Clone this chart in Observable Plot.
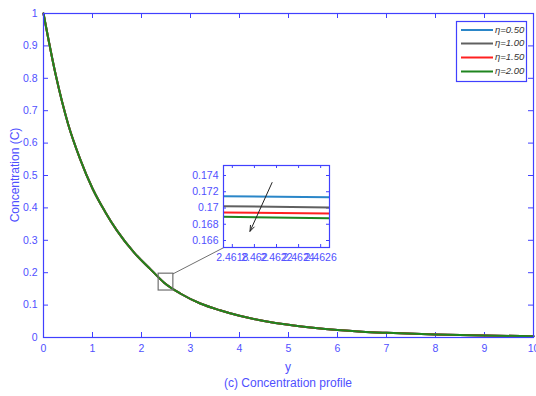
<!DOCTYPE html>
<html>
<head>
<meta charset="utf-8">
<script src="https://cdn.jsdelivr.net/npm/d3@7"></script>
<script src="https://cdn.jsdelivr.net/npm/@observablehq/plot@0.6"></script>
<style>
  html, body { margin: 0; padding: 0; background: white; }
  #wrap { position: relative; width: 536px; height: 396px; overflow: hidden; }
  #wrap svg { position: absolute; }
</style>
</head>
<body>
<div id="wrap"></div>
<script>
// ---------- data ----------
const etaLabels = ["η=0.50", "η=1.00", "η=1.50", "η=2.00"];
const etaColors = ["#2a86c8", "#606060", "#ff2020", "#1f851f"];

// main concentration profile (the four curves coincide at this scale)
const yValues = [0, 0.25, 0.5, 0.75, 1.0, 1.25, 1.5, 1.85, 2.2, 2.462, 2.8, 3.2, 3.6, 4.0, 4.5, 5.0, 5.5, 6.0, 6.5, 7.0, 8.0, 9.0, 10.0];
const cValues = [1, 0.81, 0.66, 0.55, 0.46, 0.39, 0.33, 0.262, 0.208, 0.169, 0.135, 0.105, 0.084, 0.067, 0.051, 0.039, 0.030, 0.023, 0.018, 0.0145, 0.009, 0.006, 0.004];

// zoomed inset values
const insetY = [2.4617, 2.4627];
const insetC = [
  [0.17145, 0.17133],  // η=0.50
  [0.17022, 0.17006],  // η=1.00
  [0.16945, 0.16932],  // η=1.50
  [0.16892, 0.16875]   // η=2.00
];

const xTicks = [0, 1, 2, 3, 4, 5, 6, 7, 8, 9, 10];
const yTicks = [0, 0.1, 0.2, 0.3, 0.4, 0.5, 0.6, 0.7, 0.8, 0.9, 1];
const insetXTicks = [2.4618, 2.462, 2.4622, 2.4624, 2.4626];
const insetYTicks = [0.166, 0.168, 0.17, 0.172, 0.174];
const insetXDomain = [2.46172, 2.46268];
const insetYDomain = [0.16514, 0.17523];

// annotation geometry (data units)
const zoomBox = [{x1: 2.35, x2: 2.65, y1: 0.145, y2: 0.197}];
const connector = [{x: 2.65, y: 0.197}, {x: 3.673, y: 0.277}];
const insetArrow = [{x1: 2.46216, y1: 0.17313, x2: 2.46196, y2: 0.16713}];

// ---------- styles ----------
const axisBlue = "#4040ff";
const textBlue = "#5050ff";
const font = "'Liberation Sans', Arial, sans-serif";

const profile = yValues.map((y, i) => ({y, c: cValues[i]}));
const series = etaLabels.flatMap((name, k) => profile.map(d => ({...d, name})));

// ---------- main plot ----------
const W = 536, H = 396;
const mL = 43, mR = 3, mT = 13, mB = 59;
const fw = W - mL - mR, fh = H - mT - mB;
const tk = 5;

const main = Plot.plot({
  width: W, height: H,
  marginLeft: mL, marginRight: mR, marginTop: mT, marginBottom: mB,
  x: {domain: [0, 10]},
  y: {domain: [0, 1]},
  color: {domain: etaLabels, range: etaColors},
  style: {fontFamily: font, fontSize: "10.5px", background: "transparent", overflow: "visible"},
  marks: [
    Plot.frame({fill: "white"}),
    Plot.axisX(xTicks, {tickSize: 0, tickPadding: 7, color: textBlue, label: null, tickFormat: d => String(d)}),
    Plot.axisY(yTicks, {tickSize: 0, tickPadding: 6, color: textBlue, label: null, tickFormat: d => String(d)}),
    Plot.tickX(xTicks, {x: d => d, stroke: axisBlue, insetTop: fh - tk}),
    Plot.tickX(xTicks, {x: d => d, stroke: axisBlue, insetBottom: fh - tk}),
    Plot.tickY(yTicks, {y: d => d, stroke: axisBlue, insetRight: fw - tk}),
    Plot.tickY(yTicks, {y: d => d, stroke: axisBlue, insetLeft: fw - tk}),
    Plot.line(series, {x: "y", y: "c", z: "name", stroke: "name", strokeWidth: 2, curve: "monotone-x"}),
    Plot.rect(zoomBox, {x1: "x1", x2: "x2", y1: "y1", y2: "y2", fill: "none", stroke: "#707070", strokeWidth: 1.2}),
    Plot.line(connector, {x: "x", y: "y", stroke: "#606060", strokeWidth: 0.9}),
    Plot.frame({stroke: axisBlue, strokeWidth: 1.2})
  ]
});
document.getElementById("wrap").appendChild(main);
main.style.left = "0px"; main.style.top = "0px";

const svg = d3.select(main);
svg.append("text")
  .attr("transform", `translate(16,${mT + fh / 2}) rotate(-90)`)
  .attr("text-anchor", "middle").attr("dominant-baseline", "middle")
  .attr("fill", textBlue).style("font-size", "12px").style("font-family", font)
  .text("Concentration (C)");
svg.append("text")
  .attr("x", mL + fw / 2).attr("y", 371)
  .attr("text-anchor", "middle").attr("fill", textBlue)
  .style("font-size", "12px").style("font-family", font)
  .text("y");
svg.append("text")
  .attr("x", mL + fw / 2).attr("y", 387)
  .attr("text-anchor", "middle").attr("fill", textBlue)
  .style("font-size", "12px").style("font-family", font)
  .text("(c) Concentration profile");

// legend
const lg = svg.append("g");
lg.append("rect").attr("x", 456.5).attr("y", 21.5).attr("width", 70).attr("height", 60)
  .attr("fill", "white").attr("stroke", axisBlue).attr("stroke-width", 1.2);
const rowY = [30, 43.5, 57.5, 71.5];
etaLabels.forEach((name, i) => {
  lg.append("line").attr("x1", 461).attr("x2", 493).attr("y1", rowY[i]).attr("y2", rowY[i])
    .attr("stroke", etaColors[i]).attr("stroke-width", 2);
  lg.append("text").attr("x", 495).attr("y", rowY[i]).attr("dominant-baseline", "middle")
    .attr("text-anchor", "start")
    .attr("fill", "#333").style("font-size", "9.5px").style("font-style", "italic").style("font-family", font)
    .text(name);
});

// ---------- inset ----------
const iL = 45, iR = 3, iT = 3, iB = 22;
const iw = 106, ih = 82;
const tki = 3;
const insetData = etaLabels.flatMap((name, k) => insetY.map((y, j) => ({y, c: insetC[k][j], name})));

const inset = Plot.plot({
  width: iL + iw + iR, height: iT + ih + iB,
  marginLeft: iL, marginRight: iR, marginTop: iT, marginBottom: iB,
  x: {domain: insetXDomain},
  y: {domain: insetYDomain},
  color: {domain: etaLabels, range: etaColors},
  style: {fontFamily: font, fontSize: "10.5px", background: "transparent", overflow: "visible"},
  marks: [
    Plot.frame({fill: "white"}),
    Plot.axisX(insetXTicks, {tickSize: 0, tickPadding: 6, color: textBlue, label: null, tickFormat: d => String(+d.toFixed(4))}),
    Plot.axisY(insetYTicks, {tickSize: 0, tickPadding: 5, color: textBlue, label: null, tickFormat: d => String(+d.toFixed(3))}),
    Plot.tickX(insetXTicks, {x: d => d, stroke: axisBlue, insetTop: ih - tki}),
    Plot.tickX(insetXTicks, {x: d => d, stroke: axisBlue, insetBottom: ih - tki}),
    Plot.tickY(insetYTicks, {y: d => d, stroke: axisBlue, insetRight: iw - tki}),
    Plot.tickY(insetYTicks, {y: d => d, stroke: axisBlue, insetLeft: iw - tki}),
    Plot.line(insetData, {x: "y", y: "c", z: "name", stroke: "name", strokeWidth: 2, clip: true}),
    Plot.arrow(insetArrow, {x1: "x1", y1: "y1", x2: "x2", y2: "y2", stroke: "#222", strokeWidth: 1, headLength: 9, headAngle: 40}),
    Plot.frame({stroke: axisBlue, strokeWidth: 1.2})
  ]
});
document.getElementById("wrap").appendChild(inset);
inset.style.left = (223 - iL) + "px";
inset.style.top = (165 - iT) + "px";
</script>
</body>
</html>
